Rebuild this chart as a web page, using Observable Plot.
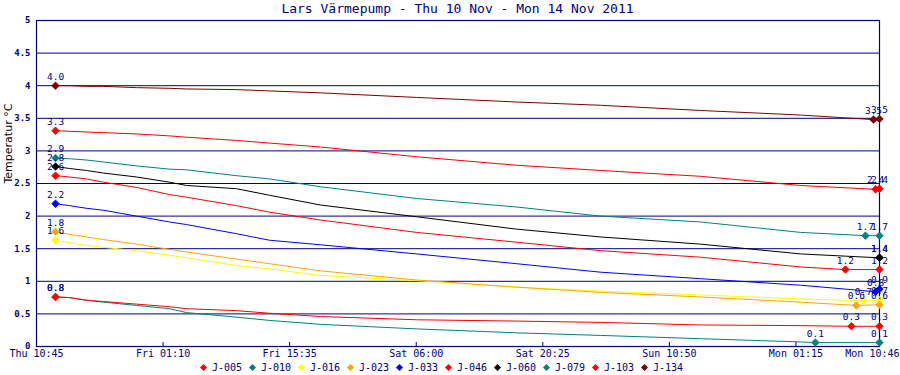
<!DOCTYPE html>
<html><head><meta charset="utf-8">
<script src="https://cdn.jsdelivr.net/npm/d3@7"></script>
<script src="https://cdn.jsdelivr.net/npm/@observablehq/plot@0.6"></script>
<style>
body{margin:0;background:#fff;width:900px;height:375px;overflow:hidden;font-family:"DejaVu Sans Mono",monospace;}
#title{height:16px;line-height:17px;font-size:13px;color:#000080;text-align:center;width:843px;margin-left:36px;white-space:nowrap;}
#chart{height:345px;}
#legend{position:relative;height:14px;}
.item{position:absolute;top:0;height:14px;line-height:14px;font-size:10px;color:#000080;white-space:nowrap;}
.dia{display:inline-block;width:5px;height:5px;transform:rotate(45deg);margin-right:6px;vertical-align:1px;}
</style></head><body>
<div id="title">Lars Värmepump - Thu 10 Nov - Mon 14 Nov 2011</div>
<div id="chart"></div>
<div id="legend"></div>
<script>
const navy = "#000080";
const domainStart = "2011-11-10T10:45Z";
const domainEnd = "2011-11-14T10:46Z";
const xTicks = ["2011-11-10T10:45Z","2011-11-11T01:10Z","2011-11-11T15:35Z","2011-11-12T06:00Z","2011-11-12T20:25Z","2011-11-13T10:50Z","2011-11-14T01:15Z","2011-11-14T10:46Z"];
const yTicks = [0,0.5,1,1.5,2,2.5,3,3.5,4,4.5,5];
const times = ["2011-11-10T12:55Z","2011-11-10T14:31Z","2011-11-10T16:26Z","2011-11-10T18:23Z","2011-11-10T22:08Z","2011-11-11T01:54Z","2011-11-11T03:50Z","2011-11-11T09:32Z","2011-11-11T13:17Z","2011-11-11T19:06Z","2011-11-12T06:02Z","2011-11-12T17:25Z","2011-11-13T02:59Z","2011-11-13T14:23Z","2011-11-14T01:46Z","2011-11-14T10:46Z"];
const seriesNames = ["J-005","J-010","J-016","J-023","J-033","J-046","J-060","J-079","J-103","J-134"];
const seriesColors = ["#ff0000","#008080","#ffff00","#ffa500","#0000ff","#ff0000","#000000","#008080","#ff0000","#800000"];
const j005 = [3.31,3.30,3.29,3.28,3.26,3.23,3.21,3.16,3.12,3.06,2.91,2.78,2.70,2.61,2.47,2.42];
const j010 = [2.89,2.88,2.86,2.83,2.77,2.72,2.71,2.62,2.57,2.45,2.27,2.14,2.00,1.91,1.75,1.70];
const j016 = [1.63,1.59,1.55,1.52,1.47,1.40,1.36,1.24,1.19,1.09,1.01,0.91,0.85,0.79,0.73,0.71];
const j023 = [1.76,1.72,1.68,1.64,1.57,1.49,1.45,1.34,1.27,1.16,1.02,0.91,0.83,0.76,0.68,0.64];
const j033 = [2.19,2.16,2.12,2.09,2.00,1.91,1.87,1.73,1.63,1.56,1.42,1.27,1.14,1.04,0.94,0.88];
const j046 = [2.62,2.60,2.57,2.52,2.44,2.33,2.29,2.16,2.06,1.94,1.75,1.60,1.47,1.37,1.22,1.18];
const j060 = [2.76,2.73,2.70,2.66,2.60,2.52,2.47,2.42,2.32,2.17,1.99,1.80,1.68,1.57,1.42,1.36];
const j079 = [0.76,0.75,0.71,0.68,0.63,0.58,0.52,0.45,0.40,0.34,0.27,0.21,0.17,0.12,0.07,0.06];
const j103 = [0.76,0.75,0.71,0.69,0.65,0.61,0.58,0.55,0.51,0.46,0.41,0.39,0.37,0.33,0.32,0.31];
const j134 = [4.00,4.00,3.99,3.99,3.97,3.96,3.95,3.94,3.92,3.89,3.82,3.75,3.70,3.62,3.55,3.49];
const minTimes = ["2011-11-14T10:19Z","2011-11-14T09:10Z","2011-11-14T08:56Z","2011-11-14T08:08Z","2011-11-14T10:19Z","2011-11-14T06:53Z","2011-11-14T10:46Z","2011-11-14T03:28Z","2011-11-14T07:34Z","2011-11-14T10:05Z"];
const minValues = [2.41,1.70,0.70,0.63,0.84,1.18,1.36,0.06,0.31,3.48];

const seriesValues = [j005,j010,j016,j023,j033,j046,j060,j079,j103,j134];
const fmt = d3.format(".1f");

const lineRows = [];
const markMarks = [];
seriesNames.forEach((name, i) => {
  const pts = times.map((t, j) => ({series: name, time: new Date(t), value: seriesValues[i][j]}));
  pts.push({series: name, time: new Date(minTimes[i]), value: minValues[i]});
  pts.sort((a, b) => a.time - b.time);
  lineRows.push(...pts);
  const first = pts[0];
  const minPt = d3.least(pts, d => d.value);
  const last = pts[pts.length - 1];
  const markers = [first, minPt, last];
  markMarks.push(
    Plot.dot(markers, {x: "time", y: "value", fill: seriesColors[i], symbol: "diamond2", r: 3.4, stroke: seriesColors[i], strokeWidth: 0.8}),
    Plot.text(markers, {x: "time", y: "value", text: d => fmt(d.value), dy: -9, fill: navy, fontSize: 9.5, textAnchor: "middle"})
  );
});

const tickDates = xTicks.map(d => new Date(d));
const tf = d3.utcFormat("%a %H:%M");

const plot = Plot.plot({
  width: 900,
  height: 345,
  marginTop: 4,
  marginBottom: 15,
  marginLeft: 36,
  marginRight: 21,
  style: {fontFamily: "DejaVu Sans Mono", background: "white", overflow: "visible"},
  x: {type: "utc", domain: [new Date(domainStart), new Date(domainEnd)]},
  y: {domain: [0, 5]},
  color: {domain: seriesNames, range: seriesColors},
  marks: [
    Plot.ruleY(yTicks.filter(d => d > 0), {stroke: navy, strokeWidth: 1}),
    Plot.frame({stroke: navy, strokeWidth: 1.2}),
    Plot.ruleX(tickDates, {stroke: navy, insetTop: 322, strokeWidth: 1}),
    Plot.axisX({ticks: tickDates.slice(0, -1), tickFormat: tf, tickSize: 0, tickPadding: 3, fill: navy, fontSize: 10, label: null}),
    Plot.axisX({ticks: tickDates.slice(-1), tickFormat: tf, tickSize: 0, tickPadding: 3, fill: navy, fontSize: 10, label: null, textAnchor: "end", dx: 20}),
    Plot.axisY({ticks: yTicks, tickSize: 0, tickPadding: 6, tickFormat: d => String(d), fill: navy, fontSize: 9, fontWeight: "bold", label: null}),
    Plot.text(["Temperatur °C"], {frameAnchor: "left", rotate: -90, dx: -28, fill: "black", fontSize: 11, fontFamily: "DejaVu Sans"}),
    Plot.line(lineRows, {x: "time", y: "value", z: "series", stroke: "series", strokeWidth: 1}),
    ...markMarks
  ]
});
document.getElementById("chart").appendChild(plot);

const legend = document.getElementById("legend");
seriesNames.forEach((name, i) => {
  const it = document.createElement("div");
  it.className = "item";
  it.style.left = (201 + i * 49) + "px";
  const d = document.createElement("span");
  d.className = "dia";
  d.style.background = seriesColors[i];
  it.appendChild(d);
  it.appendChild(document.createTextNode(name));
  legend.appendChild(it);
});
</script>
</body></html>
